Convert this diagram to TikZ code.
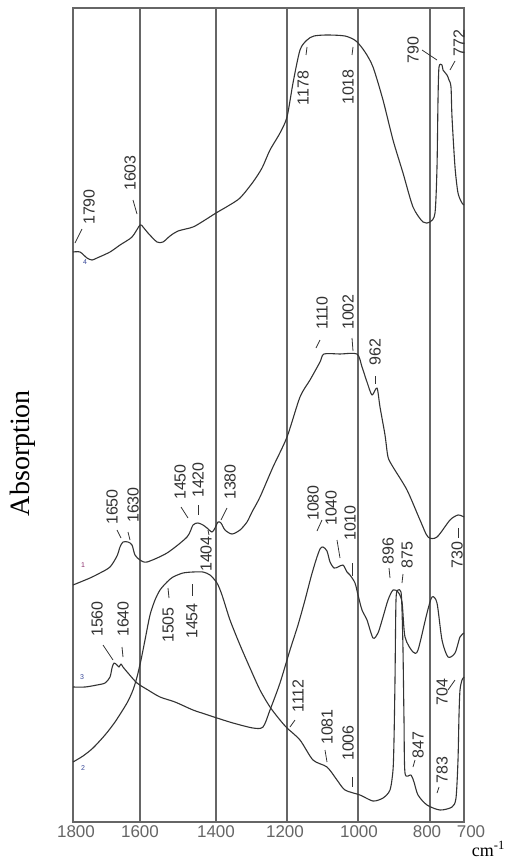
\documentclass[tikz,border=0pt]{standalone}
\usepackage{fontspec}
\setmainfont{Liberation Serif}
\newfontfamily\arial{Liberation Sans}
\definecolor{ink}{HTML}{333333}
\definecolor{gridc}{HTML}{666666}
\definecolor{bluelab}{HTML}{3A4A9A}
\definecolor{redlab}{HTML}{8A2A6A}
\begin{document}
\begin{tikzpicture}[x=1pt,y=-1pt,
  grid/.style={draw=gridc,line width=1.3pt},
  curve/.style={draw=ink,line width=1.1pt,line join=round},
  lead/.style={draw=ink,line width=0.8pt},
  pk/.style={text=ink,inner sep=0pt,rotate=90,font=\arial\fontsize{16}{16}\selectfont},
  tick/.style={text=gridc,inner sep=0pt,font=\arial\fontsize{17}{17}\selectfont},
  cl/.style={inner sep=0pt,font=\arial\fontsize{7}{7}\selectfont}]
\useasboundingbox (0,0) rectangle (508,859);
\fill[white] (0,0) rectangle (508,859);
% frame and grid
\draw[grid] (73,8) rectangle (464,822);
\foreach \gx in {140,216,287,358,430} \draw[grid] (\gx,8) -- (\gx,822);
% axis labels
\node[tick] (t1800) at (76,832) {1800};
\node[tick] (t1600) at (140,832) {1600};
\node[tick] (t1400) at (216,832) {1400};
\node[tick] (t1200) at (285,832) {1200};
\node[tick] (t1000) at (359,832) {1000};
\node[tick] (t800) at (427,832) {800};
\node[tick] (t700) at (471,832) {700};
\node[anchor=base east,inner sep=0pt,text=black,font=\fontsize{18}{18}\selectfont] (unit) at (505,856) {cm\textsuperscript{-1}};
\node[rotate=90,inner sep=0pt,text=black,font=\fontsize{28}{28}\selectfont] (ylab) at (23,453) {Absorption};
% curve 4
\draw[curve] plot[smooth,tension=0.45] coordinates {(73,252) (80,252) (87,258) (92,260) (97,258) (110,252) (120,245) (132,237) (140,225) (143,227) (148,233) (157,242) (163,242) (170,236) (178,231) (193,227) (205,220) (216,213) (228,206) (240,198) (253,182) (262,168) (270,150) (280,133) (287,117) (293,83) (300,50) (307,40) (314,36) (327,35) (345,36) (356,41) (365,52) (373,67) (383,100) (393,140) (403,173) (413,207) (423,222) (430,222) (435,213) (437,167) (438,100) (439,67) (442,65) (443,70) (447,75) (449,80) (451,87) (452,117) (455,167) (458,193) (462,203) (464,205)};
% curve 1
\draw[curve] plot[smooth,tension=0.45] coordinates {(73,585) (90,578) (100,573) (110,567) (117,556) (120,547) (123,542) (128,542) (132,545) (135,555) (140,560) (147,562) (167,553) (187,537) (193,525) (198,523) (203,525) (207,528) (212,532) (215,528) (218,522) (221,523) (225,530) (232,534) (240,530) (247,522) (252,512) (260,497) (273,467) (287,437) (300,397) (310,380) (320,362) (324,354) (340,354) (357,354) (362,367) (367,382) (372,395) (377,388) (380,407) (385,435) (388,457) (393,467) (407,490) (420,520) (428,537) (437,537) (450,520) (458,515) (464,517)};
% curve 3
\draw[curve] plot[smooth,tension=0.45] coordinates {(73,687) (85,687) (97,685) (105,683) (110,677) (112,668) (114,663) (117,665) (119,667) (121,664) (123,667) (128,673) (137,683) (148,690) (160,697) (175,702) (193,710) (205,714) (217,718) (233,723) (253,728) (263,727) (270,710) (280,683) (290,650) (298,625) (305,600) (311,577) (316,560) (320,549) (323,547) (327,551) (330,562) (334,568) (338,567) (343,565) (347,572) (350,575) (355,583) (358,595) (362,610) (367,620) (373,638) (378,633) (383,617) (388,600) (393,590) (398,592) (402,602) (405,637) (413,652) (418,650) (427,613) (432,597) (437,603) (442,640) (448,657) (455,653) (460,637) (464,633)};
% curve 2
\draw[curve] plot[smooth,tension=0.45] coordinates {(73,762) (83,756) (93,748) (105,735) (115,722) (127,703) (133,690) (137,677) (141,660) (145,640) (150,615) (155,600) (160,590) (167,582) (173,577) (183,573) (193,572) (203,572) (210,575) (217,583) (222,595) (230,620) (240,645) (250,668) (260,690) (270,707) (280,720) (287,728) (300,740) (313,760) (327,767) (337,780) (345,790) (360,795) (373,801) (383,798) (390,790) (393,770) (394,740) (395,680) (396,600) (398,590) (401,592) (402,610) (403,650) (404,720) (405,773) (411,775) (414,782) (418,795) (427,805) (440,810) (452,807) (456,798) (458,760) (459,715) (460,690) (462,680) (464,677)};
% curve numbers
\node[cl,text=bluelab] (n4) at (85,262) {4};
\node[cl,text=redlab] (n1) at (83,565) {1};
\node[cl,text=bluelab] (n3) at (82,677) {3};
\node[cl,text=bluelab] (n2) at (83,768) {2};
% peak labels, curve 4
\node[pk] (p1790) at (89,207) {1790};
\draw[lead] (75,243) coordinate (a1790) -- (82,229) coordinate (b1790);
\node[pk] (p1603) at (130,173) {1603};
\draw[lead] (133,200) coordinate (a1603) -- (137,214) coordinate (b1603);
\node[pk] (p1178) at (303,88) {1178};
\draw[lead] (307,47) coordinate (a1178) -- (306,55) coordinate (b1178);
\node[pk] (p1018) at (348,87) {1018};
\draw[lead] (353,47) coordinate (a1018) -- (352,55) coordinate (b1018);
\node[pk] (p790) at (413,50) {790};
\draw[lead] (422,50) coordinate (a790) -- (437,60) coordinate (b790);
\node[pk] (p772) at (459,43) {772};
\draw[lead] (450,70) coordinate (a772) -- (455,61) coordinate (b772);
% peak labels, curve 1
\node[pk] (p1650) at (112,507) {1650};
\draw[lead] (117,530) coordinate (a1650) -- (121,538) coordinate (b1650);
\node[pk] (p1630) at (133,505) {1630};
\draw[lead] (128,532) coordinate (a1630) -- (130,540) coordinate (b1630);
\node[pk] (p1450) at (180,482) {1450};
\draw[lead] (181,507) coordinate (a1450) -- (188,518) coordinate (b1450);
\node[pk] (p1420) at (198,480) {1420};
\draw[lead] (198,505) coordinate (a1420) -- (198,515) coordinate (b1420);
\node[pk] (p1404) at (206,554) {1404};
\draw[lead] (208,530) coordinate (a1404) -- (209,535) coordinate (b1404);
\node[pk] (p1380) at (230,482) {1380};
\draw[lead] (221,520) coordinate (a1380) -- (227,508) coordinate (b1380);
\node[pk] (p1110) at (322,313) {1110};
\draw[lead] (316,348) coordinate (a1110) -- (320,340) coordinate (b1110);
\node[pk] (p1002) at (348,312) {1002};
\draw[lead] (352,338) coordinate (a1002) -- (353,351) coordinate (b1002);
\node[pk] (p962) at (375,352) {962};
\draw[lead] (375,376) coordinate (a962) -- (375,384) coordinate (b962);
\node[pk] (p730) at (457,555) {730};
\draw[lead] (458,528) coordinate (a730) -- (458,538) coordinate (b730);
% peak labels, curve 3
\node[pk] (p1560) at (97,619) {1560};
\draw[lead] (103,645) coordinate (a1560) -- (113,660) coordinate (b1560);
\node[pk] (p1640) at (123,619) {1640};
\draw[lead] (122,647) coordinate (a1640) -- (123,657) coordinate (b1640);
\node[pk] (p1080) at (313,503) {1080};
\draw[lead] (317,531) coordinate (a1080) -- (322,520) coordinate (b1080);
\node[pk] (p1040) at (331,508) {1040};
\draw[lead] (337,540) coordinate (a1040) -- (340,558) coordinate (b1040);
\node[pk] (p1010) at (350,523) {1010};
\draw[lead] (352,563) coordinate (a1010) -- (352,576) coordinate (b1010);
\node[pk] (p896) at (388,551) {896};
\draw[lead] (389,568) coordinate (a896) -- (390,578) coordinate (b896);
\node[pk] (p875) at (407,555) {875};
\draw[lead] (402,583) coordinate (a875) -- (403,574) coordinate (b875);
% peak labels, curve 2
\node[pk] (p1505) at (168,625) {1505};
\draw[lead] (168,588) coordinate (a1505) -- (169,598) coordinate (b1505);
\node[pk] (p1454) at (192,621) {1454};
\draw[lead] (192,584) coordinate (a1454) -- (192,596) coordinate (b1454);
\node[pk] (p1112) at (298,696) {1112};
\draw[lead] (290,727) coordinate (a1112) -- (295,720) coordinate (b1112);
\node[pk] (p1081) at (327,727) {1081};
\draw[lead] (325,750) coordinate (a1081) -- (327,762) coordinate (b1081);
\node[pk] (p1006) at (348,743) {1006};
\draw[lead] (352,777) coordinate (a1006) -- (352,787) coordinate (b1006);
\node[pk] (p847) at (418,745) {847};
\draw[lead] (413,767) coordinate (a847) -- (415,760) coordinate (b847);
\node[pk] (p783) at (442,770) {783};
\draw[lead] (437,793) coordinate (a783) -- (439,787) coordinate (b783);
\node[pk] (p704) at (442,692) {704};
\draw[lead] (448,690) coordinate (a704) -- (455,680) coordinate (b704);
\end{tikzpicture}
\end{document}
